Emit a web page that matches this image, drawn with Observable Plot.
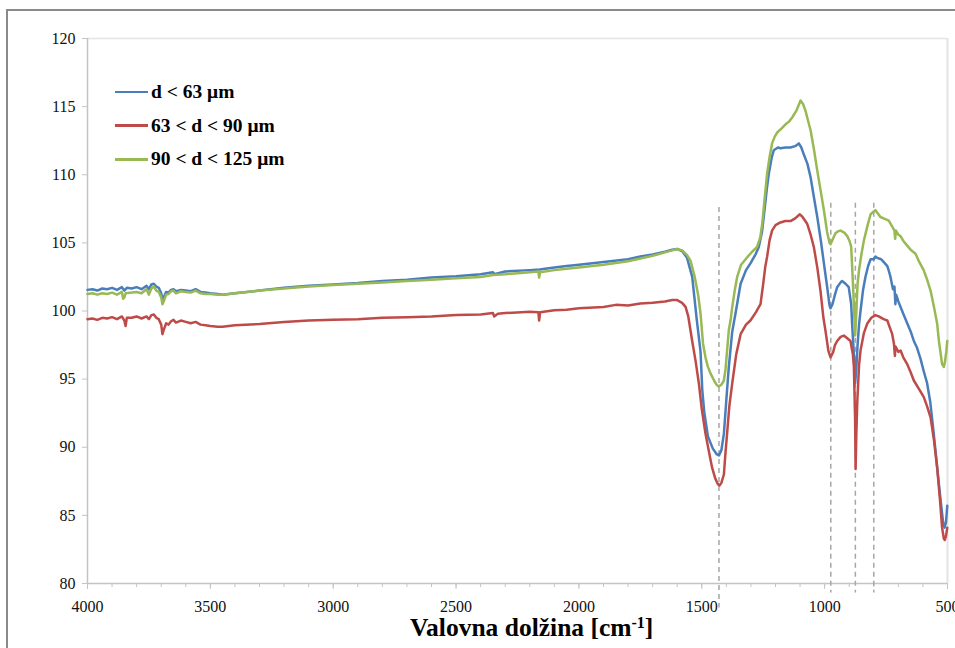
<!DOCTYPE html>
<html><head><meta charset="utf-8">
<script src="https://cdn.jsdelivr.net/npm/d3@7"></script>
<script src="https://cdn.jsdelivr.net/npm/@observablehq/plot@0.6"></script>
<style>
body{margin:0;width:955px;height:648px;overflow:hidden;background:#fff;position:relative;font-family:"Liberation Serif","Times New Roman",serif;}
#frame{position:absolute;left:6px;top:9px;width:1000px;height:1000px;border-left:2px solid #8a8a8a;border-top:2px solid #8a8a8a;}
#chart{position:absolute;left:0;top:0;}
#chart svg, #chart svg text{font-family:"Liberation Serif","Times New Roman",serif !important;}
#xlabel{position:absolute;left:410px;top:617px;line-height:22px;font-weight:bold;font-size:25.5px;white-space:nowrap;color:#000;font-family:"Liberation Serif","Times New Roman",serif;}
#xlabel sup{font-size:16px;line-height:0;vertical-align:top;position:relative;top:6px;}
.lg{position:absolute;left:115px;height:20px;display:flex;align-items:center;font-weight:bold;font-size:19.5px;color:#000;white-space:nowrap;font-family:"Liberation Serif","Times New Roman",serif;}
.lg span.sw{display:inline-block;width:33px;height:2.5px;margin-right:3px;}
</style>
</head><body>
<div id="frame"></div>
<div id="chart"></div>
<div id="legend"></div>
<div id="xlabel">Valovna dolžina [cm<sup>-1</sup>]</div>
<script>
const seriesNames = ["d < 63 μm", "63 < d < 90 μm", "90 < d < 125 μm"];
const seriesColors = ["#4A7EBB", "#BE4B48", "#98B954"];

const blueWn = [4000,3980,3960,3940,3920,3900,3880,3860,3850,3840,3820,3800,3780,3760,3750,3740,3730,3720,3710,3700,3695,3690,3680,3670,3660,3650,3640,3620,3600,3580,3560,3540,3520,3500,3470,3450,3400,3300,3200,3100,3000,2900,2800,2700,2600,2500,2400,2350,2345,2300,2200,2160,2100,2050,2000,1900,1800,1750,1700,1650,1620,1600,1580,1560,1539,1520,1505,1498,1490,1475,1455,1440,1430,1420,1410,1400,1390,1376,1363,1342,1320,1302,1280,1268,1255,1248,1235,1227,1215,1207,1190,1180,1160,1139,1120,1105,1095,1085,1070,1057,1045,1030,1015,1003,990,980,976,968,958,949,935,929,915,902,892,888,880,876,872,866,860,854,844,834,823,813,800,793,786,770,760,745,738,732,722,716,712,709,700,691,680,664,650,637,624,610,597,583,570,556,542,528,518,512,506,501];
const blueT = [101.55,101.6,101.5,101.65,101.6,101.7,101.55,101.75,101.5,101.7,101.65,101.75,101.6,101.85,101.6,101.95,102.0,101.8,101.7,101.3,100.8,101.0,101.4,101.35,101.55,101.6,101.45,101.55,101.5,101.45,101.6,101.4,101.35,101.3,101.25,101.2,101.3,101.5,101.7,101.85,101.95,102.05,102.2,102.3,102.45,102.55,102.7,102.85,102.7,102.9,103.0,103.05,103.2,103.3,103.4,103.6,103.8,104.0,104.15,104.35,104.5,104.55,104.4,103.9,102.5,99.3,97.0,94.2,92.6,90.8,89.9,89.5,89.4,89.8,91.0,93.5,95.9,98.5,99.8,102.0,103.0,103.5,104.2,104.7,105.8,106.9,109.0,110.1,111.3,111.8,112.0,111.95,112.0,112.0,112.1,112.3,112.0,111.5,110.8,109.8,108.5,106.9,105.1,103.5,101.8,100.4,100.2,100.5,101.2,101.75,102.1,102.2,102.0,101.75,100.5,99.0,96.5,94.7,95.5,97.5,99.0,100.0,101.5,102.5,103.3,103.8,103.8,104.0,103.9,103.8,103.6,103.3,102.9,102.5,101.6,101.8,100.5,101.2,100.7,100.3,99.8,99.1,98.5,97.8,97.3,96.5,95.6,94.7,93.3,91.0,88.5,86.1,84.5,84.1,84.5,85.7];

const redWn = [4000,3980,3960,3940,3920,3900,3880,3860,3850,3845,3840,3820,3800,3780,3760,3750,3740,3730,3720,3710,3700,3695,3690,3680,3670,3660,3650,3640,3620,3600,3580,3560,3540,3520,3500,3470,3450,3400,3300,3200,3100,3000,2900,2800,2700,2600,2500,2400,2350,2345,2330,2300,2200,2165,2162,2158,2100,2050,2000,1900,1850,1800,1750,1700,1650,1620,1600,1580,1566,1555,1539,1525,1512,1500,1485,1470,1458,1445,1435,1428,1420,1410,1404,1397,1388,1376,1360,1342,1320,1302,1280,1261,1250,1242,1234,1224,1214,1200,1180,1160,1139,1120,1101,1090,1071,1057,1044,1030,1017,1005,997,985,976,965,958,949,935,922,908,895,885,881,876,874,871,867,860,854,840,827,810,793,780,760,745,735,725,718,714,712,700,691,680,664,650,637,617,597,583,569,555,542,530,522,515,511,506,501];
const redT = [99.4,99.45,99.35,99.5,99.45,99.55,99.4,99.6,99.3,98.9,99.5,99.5,99.6,99.45,99.6,99.4,99.7,99.75,99.5,99.4,99.0,98.3,98.6,99.1,99.0,99.25,99.35,99.15,99.3,99.2,99.1,99.2,99.0,98.95,98.9,98.85,98.85,98.95,99.05,99.2,99.3,99.35,99.4,99.5,99.55,99.6,99.7,99.75,99.85,99.6,99.8,99.85,99.95,99.9,99.3,99.9,100.05,100.1,100.2,100.3,100.45,100.4,100.55,100.6,100.7,100.8,100.8,100.6,100.3,99.6,97.8,96.3,94.7,92.8,91.0,89.6,88.5,87.7,87.3,87.2,87.4,88.0,89.5,91.0,93.0,94.7,96.8,98.3,99.0,99.3,99.9,100.5,102.0,103.2,104.0,105.2,105.9,106.3,106.5,106.6,106.6,106.8,107.1,106.9,106.4,105.6,104.7,103.2,101.5,99.5,98.6,97.1,96.6,97.0,97.5,97.8,98.1,98.2,98.0,97.8,96.8,95.9,92.0,88.4,91.0,93.4,96.0,97.1,98.4,99.06,99.5,99.7,99.6,99.4,99.3,98.8,98.3,97.6,96.7,97.4,97.0,97.1,96.6,96.1,95.5,94.9,94.3,93.7,93.0,92.2,90.5,88.5,86.0,84.1,83.3,83.2,83.5,84.1];

const greenWn = [4000,3980,3960,3940,3920,3900,3880,3860,3855,3850,3845,3820,3800,3780,3760,3750,3740,3730,3720,3710,3700,3695,3690,3680,3670,3660,3650,3640,3620,3600,3580,3560,3540,3520,3500,3470,3450,3400,3300,3200,3100,3000,2900,2800,2700,2600,2500,2400,2350,2300,2200,2165,2162,2158,2100,2050,2000,1900,1800,1750,1700,1650,1620,1600,1580,1560,1546,1530,1515,1505,1495,1485,1475,1464,1450,1440,1431,1420,1410,1403,1397,1390,1383,1376,1366,1356,1340,1315,1295,1275,1262,1254,1245,1234,1224,1214,1203,1193,1175,1159,1145,1132,1115,1098,1088,1078,1068,1057,1043,1030,1016,1003,990,980,976,966,956,945,935,920,908,898,892,886,880,876,872,866,860,850,840,825,813,800,793,785,773,760,739,725,716,713,710,700,691,678,664,650,630,615,597,583,569,555,542,535,528,522,515,510,505,501];
const greenT = [101.25,101.3,101.2,101.3,101.25,101.35,101.2,101.4,100.9,101.0,101.3,101.35,101.4,101.3,101.6,101.2,101.65,101.8,101.5,101.4,101.0,100.5,100.7,101.2,101.25,101.45,101.5,101.3,101.45,101.4,101.35,101.5,101.3,101.25,101.25,101.2,101.2,101.3,101.5,101.65,101.8,101.9,102.0,102.1,102.2,102.3,102.4,102.5,102.65,102.7,102.85,102.9,102.45,102.85,103.0,103.1,103.2,103.4,103.65,103.85,104.05,104.3,104.45,104.55,104.45,104.1,103.7,102.6,101.2,99.8,97.6,96.6,95.9,95.4,94.9,94.6,94.45,94.6,94.9,95.8,97.1,98.6,99.3,100.3,101.5,102.5,103.4,103.95,104.35,104.7,105.4,106.4,108.1,110.1,111.3,112.3,112.8,113.1,113.4,113.7,113.9,114.2,114.7,115.45,115.2,114.7,114.0,113.25,111.8,110.3,108.8,107.4,105.8,105.0,104.9,105.3,105.7,105.85,105.9,105.75,105.5,105.1,104.7,102.5,100.0,98.2,99.5,102.0,103.0,104.2,105.2,106.3,107.1,107.3,107.4,107.2,106.9,106.8,106.64,106.2,105.9,105.3,105.9,105.6,105.5,105.1,104.8,104.5,104.2,103.6,103.0,102.3,101.5,100.3,99.06,97.8,96.9,96.1,95.9,96.3,97.0,97.8];

const markerWn = [1430, 975, 875, 800];
const markerTop = [107.6, 107.9, 107.9, 107.9];
const markerBottom = [78.2, 79.3, 79.3, 79.3];

const xTicks = [4000, 3500, 3000, 2500, 2000, 1500, 1000, 500];
const xMinorTicks = d3.range(500, 4001, 100);
const yTicks = [80, 85, 90, 95, 100, 105, 110, 115, 120];

const seriesWn = [blueWn, redWn, greenWn];
const seriesT = [blueT, redT, greenT];
const rows = [];
seriesNames.forEach((name, i) => {
  seriesWn[i].forEach((w, j) => rows.push({series: name, wn: w, t: seriesT[i][j]}));
});
const markers = markerWn.map((w, i) => ({wn: w, top: markerTop[i], bottom: markerBottom[i]}));

const chart = Plot.plot({
  width: 955,
  height: 610,
  marginLeft: 87,
  marginRight: 8,
  marginTop: 38,
  marginBottom: 27,
  style: {fontFamily: '"Liberation Serif","Times New Roman",serif', fontSize: "16px", background: "transparent", overflow: "visible"},
  x: {domain: [4000, 500], label: null},
  y: {domain: [80, 120], label: null},
  color: {domain: seriesNames, range: seriesColors},
  marks: [
    Plot.ruleY([120], {stroke: "#e4e4e4", strokeWidth: 1.5}),
    Plot.ruleX([500], {stroke: "#e4e4e4", strokeWidth: 2}),
    Plot.axisX({ticks: xMinorTicks, tickSize: 4, text: null, label: null, stroke: "#c4c4c4"}),
    Plot.axisX({ticks: xTicks, tickSize: 6, tickPadding: 11, label: null, stroke: "#c4c4c4", fill: "#111", fontSize: 16, tickFormat: d => String(d)}),
    Plot.axisY({ticks: yTicks, tickSize: 5, tickPadding: 7, label: null, stroke: "#c4c4c4", fill: "#111", fontSize: 16}),
    Plot.ruleX([4000], {stroke: "#c4c4c4", strokeWidth: 1.5}),
    Plot.ruleY([80], {stroke: "#c4c4c4", strokeWidth: 1.5}),
    Plot.ruleX(markers, {x: "wn", y1: "top", y2: "bottom", stroke: "#a6a6a6", strokeWidth: 1.5, strokeDasharray: "5,4"}),
    Plot.line(rows, {x: "wn", y: "t", z: "series", stroke: "series", strokeWidth: 2.5, strokeLinejoin: "round", curve: "linear"})
  ]
});
document.getElementById("chart").appendChild(chart);

const legend = document.getElementById("legend");
seriesNames.forEach((name, i) => {
  const row = document.createElement("div");
  row.className = "lg";
  row.style.top = (82 + i * 33.7) + "px";
  const sw = document.createElement("span");
  sw.className = "sw";
  sw.style.background = seriesColors[i];
  row.appendChild(sw);
  row.appendChild(document.createTextNode(name));
  legend.appendChild(row);
});
</script>
</body></html>
